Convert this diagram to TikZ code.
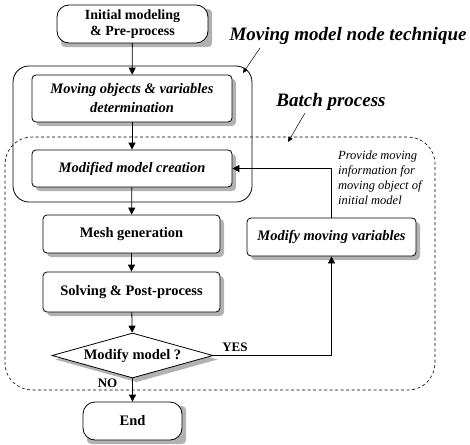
\documentclass[tikz,border=0pt]{standalone}
\usepackage{fontspec}
\setmainfont{Liberation Serif}
\usetikzlibrary{arrows.meta,shapes.geometric}
% a step: gray offset shadow first, then the framed node itself
% #1 extra style, #2 name, #3 x, #4 y, #5 width, #6 height, #7 text
\newcommand{\flowstep}[7][]{%
  \fill[stepshadow,rounded corners=4pt] (#3-#5/2+4,#4-#6/2+4) rectangle (#3+#5/2+4,#4+#6/2+4);
  \node[procbox,#1,minimum width=#5pt,minimum height=#6pt] (#2) at (#3,#4) {#7};}
\begin{document}
\begin{tikzpicture}[x=1pt,y=-1pt,
  stepshadow/.style={fill=gray!60},
  procbox/.style={draw,line width=0.8pt,fill=white,rounded corners=4pt,inner sep=0pt,
    align=center,font=\fontsize{14.5}{16}\selectfont\bfseries},
  termbox/.style={rounded corners=12pt},
  decbox/.style={diamond,aspect=3.58,rounded corners=0pt},
  slanted/.style={font=\fontsize{14.5}{16}\selectfont\bfseries\itshape},
  flow/.style={line width=0.8pt,-{Triangle[length=7pt,width=7pt]}},
  lead/.style={line width=0.5pt,-{Triangle[length=5pt,width=4.5pt]}},
  biglabel/.style={font=\fontsize{19}{21}\selectfont\bfseries\itshape,inner sep=0pt},
  tag/.style={font=\fontsize{13}{14}\selectfont\bfseries,inner sep=0pt}]
\useasboundingbox (0,0) rectangle (470,444);

% group outlines
\draw[line width=0.8pt,rounded corners=16pt] (13,66) rectangle (252,202);
\draw[line width=0.6pt,dash pattern=on 3pt off 2.5pt,rounded corners=27pt] (5,137) rectangle (435,390);

% flow steps
\flowstep[termbox,font=\fontsize{14}{15.5}\selectfont\bfseries]{init}{132.5}{24}{151}{38}
  {Initial modeling\\\& Pre-process}
\flowstep[font=\fontsize{14.5}{19}\selectfont\bfseries\itshape]{mov}{132}{98.5}{200}{47}
  {Moving objects \& variables\\determination}
\flowstep[slanted]{mmc}{132}{168.5}{200}{37}{Modified model creation}
\flowstep{mesh}{131.5}{234}{177}{38}{Mesh generation}
\flowstep{solve}{131.5}{292}{177}{40}{Solving \& Post-process}
\flowstep[termbox]{stop}{132.5}{421}{99}{38}{End}
\flowstep[slanted]{mmv}{331.5}{237}{169}{38}{Modify moving variables}
\fill[stepshadow] (136.5,337) -- (217.5,359.5) -- (136.5,382) -- (55.5,359.5) -- cycle;
\node[procbox,decbox,minimum width=161pt,minimum height=45pt] (dec) at (132.5,355.5) {Modify model ?};

% labels
\node[biglabel] (tech) at (348,36) {Moving model node technique};
\node[biglabel] (batch) at (331,102) {Batch process};
\node[anchor=north west,align=left,inner sep=0pt,
  font=\fontsize{12.5}{15}\selectfont\itshape] (info) at (338,151)
  {Provide moving\\information for\\moving object of\\initial model};
\node[tag] (yes) at (235,347) {YES};
\node[tag] (no) at (107.5,383) {NO};

% leader arrows
\coordinate (techfrom) at (260,48);
\coordinate (techto) at (243,73);
\coordinate (batchfrom) at (305,113);
\coordinate (batchto) at (288,142);
\draw[lead] (techfrom) -- (techto);
\draw[lead] (batchfrom) -- (batchto);

% connectors
\draw[flow] (init) -- (mov);
\draw[flow] (mov) -- (mmc);
\draw[flow] (mmc) -- (mesh);
\draw[flow] (mesh) -- (solve);
\draw[flow] (solve) -- (dec);
\draw[flow] (dec) -- (stop);
\draw[flow] (dec.east) -| (mmv.south);
\draw[flow] (mmv.north) |- (mmc.east);
\end{tikzpicture}
\end{document}
